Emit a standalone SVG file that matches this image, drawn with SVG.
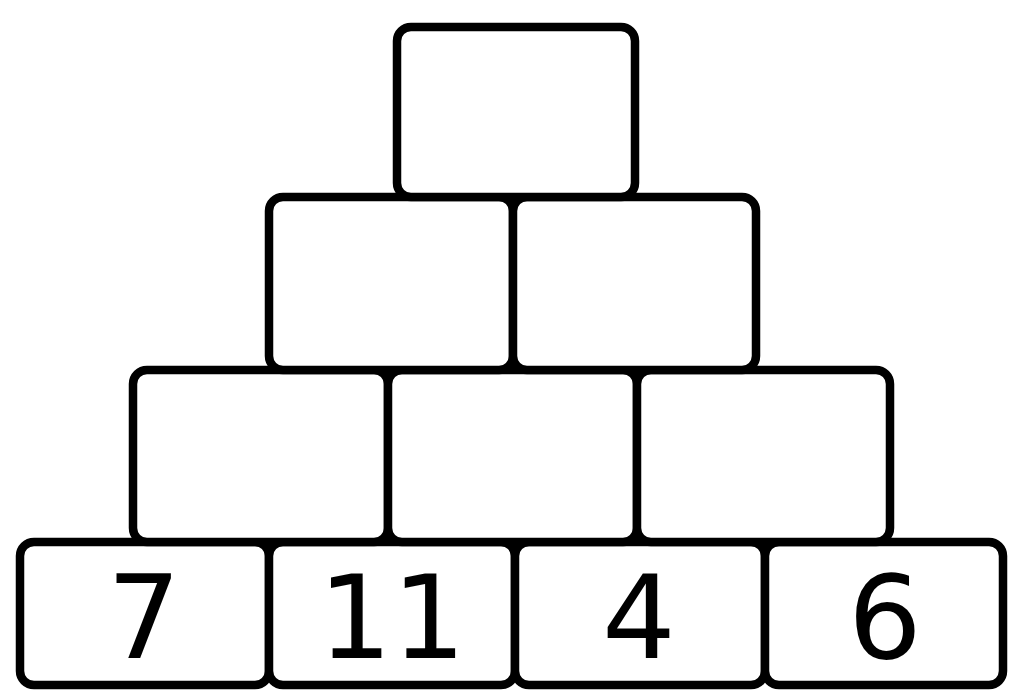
<svg xmlns="http://www.w3.org/2000/svg" width="1012" height="690" viewBox="0 0 1012 690">
<style>
.cell{fill:#fff;stroke:#000;stroke-width:8.5;}
.num{font-family:"DejaVu Sans","Liberation Sans",sans-serif;font-size:116px;fill:#000;text-anchor:middle;}
</style>
<rect width="1012" height="690" fill="#fff"/>
<g id="row4">
<g id="c41"><rect class="cell" x="20" y="542" width="249" height="143" rx="14"/><text class="num" x="144" y="658">7</text></g>
<g id="c42"><rect class="cell" x="269" y="542" width="246" height="143" rx="14"/><text class="num" x="392" y="658">11</text></g>
<g id="c43"><rect class="cell" x="515" y="542" width="250" height="143" rx="14"/><text class="num" x="639" y="658">4</text></g>
<g id="c44"><rect class="cell" x="765" y="542" width="238" height="143" rx="14"/><text class="num" x="885" y="658">6</text></g>
</g>
<g id="row3">
<g id="c31"><rect class="cell" x="133" y="370" width="255" height="172" rx="14"/></g>
<g id="c32"><rect class="cell" x="388" y="370" width="249" height="172" rx="14"/></g>
<g id="c33"><rect class="cell" x="637" y="370" width="253" height="172" rx="14"/></g>
</g>
<g id="row2">
<g id="c21"><rect class="cell" x="269" y="197" width="244" height="173" rx="14"/></g>
<g id="c22"><rect class="cell" x="513" y="197" width="243" height="173" rx="14"/></g>
</g>
<g id="row1">
<g id="c11"><rect class="cell" x="397" y="27" width="238" height="170" rx="14"/></g>
</g>
<g id="connectors"></g>
</svg>
